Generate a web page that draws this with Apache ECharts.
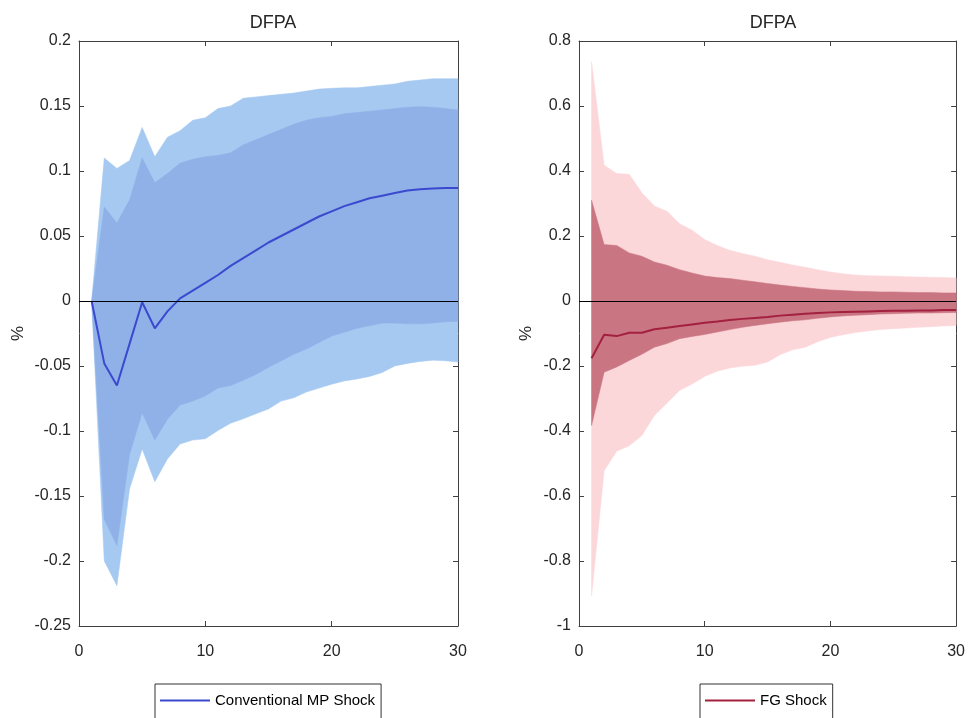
<!DOCTYPE html>
<html>
<head>
<meta charset="utf-8">
<script src="https://cdn.jsdelivr.net/npm/echarts@6/dist/echarts.min.js"></script>
<style>
html,body{margin:0;padding:0;background:#fff;}
#chart{width:968px;height:718px;}
</style>
</head>
<body>
<div id="chart"></div>
<script>
// Horizons
const horizons = [1,2,3,4,5,6,7,8,9,10,11,12,13,14,15,16,17,18,19,20,21,22,23,24,25,26,27,28,29,30];

// Left panel: Conventional MP Shock (DFPA, %)
const mpMedian = [0,-0.048,-0.065,-0.033,-0.001,-0.021,-0.008,0.002,0.008,0.014,0.020,0.027,0.033,0.039,0.045,0.050,0.055,0.060,0.065,0.069,0.073,0.076,0.079,0.081,0.083,0.085,0.086,0.0865,0.087,0.087];
const mpHi90 = [0,0.110,0.102,0.108,0.1335,0.111,0.126,0.131,0.139,0.141,0.148,0.150,0.156,0.157,0.158,0.159,0.160,0.1615,0.163,0.1636,0.164,0.164,0.165,0.166,0.167,0.169,0.170,0.171,0.171,0.171];
const mpHi68 = [0,0.0724,0.060,0.0776,0.110,0.091,0.098,0.106,0.109,0.111,0.112,0.114,0.120,0.124,0.128,0.132,0.136,0.139,0.141,0.142,0.144,0.145,0.146,0.147,0.148,0.149,0.1495,0.149,0.148,0.147];
const mpLo68 = [0,-0.168,-0.188,-0.118,-0.086,-0.107,-0.091,-0.080,-0.077,-0.073,-0.067,-0.065,-0.061,-0.0565,-0.051,-0.046,-0.041,-0.037,-0.032,-0.027,-0.024,-0.021,-0.019,-0.017,-0.017,-0.0175,-0.0175,-0.017,-0.016,-0.0157];
const mpLo90 = [0,-0.200,-0.219,-0.1446,-0.1138,-0.139,-0.1215,-0.110,-0.107,-0.106,-0.0996,-0.094,-0.0906,-0.0868,-0.083,-0.077,-0.0745,-0.070,-0.067,-0.064,-0.0615,-0.060,-0.058,-0.055,-0.050,-0.048,-0.0465,-0.0455,-0.046,-0.047];

// Right panel: FG Shock (DFPA, %)
const fgMedian = [-0.176,-0.104,-0.108,-0.0976,-0.0976,-0.087,-0.082,-0.077,-0.072,-0.067,-0.063,-0.0585,-0.055,-0.052,-0.049,-0.045,-0.042,-0.039,-0.037,-0.035,-0.034,-0.033,-0.032,-0.031,-0.030,-0.030,-0.029,-0.029,-0.028,-0.028];
const fgHi90 = [0.736,0.418,0.392,0.390,0.333,0.292,0.276,0.238,0.218,0.189,0.171,0.156,0.146,0.138,0.127,0.119,0.111,0.104,0.096,0.089,0.084,0.080,0.078,0.077,0.076,0.075,0.074,0.073,0.072,0.071];
const fgHi68 = [0.310,0.1735,0.171,0.148,0.1376,0.120,0.110,0.0965,0.086,0.077,0.072,0.069,0.064,0.059,0.054,0.049,0.045,0.041,0.037,0.034,0.032,0.030,0.029,0.028,0.028,0.027,0.026,0.026,0.025,0.025];
const fgLo68 = [-0.383,-0.219,-0.203,-0.183,-0.164,-0.142,-0.131,-0.116,-0.109,-0.103,-0.0955,-0.088,-0.081,-0.075,-0.070,-0.065,-0.061,-0.058,-0.053,-0.049,-0.046,-0.044,-0.042,-0.040,-0.039,-0.038,-0.037,-0.037,-0.036,-0.035];
const fgLo90 = [-0.907,-0.522,-0.462,-0.445,-0.414,-0.352,-0.314,-0.275,-0.255,-0.232,-0.216,-0.206,-0.201,-0.198,-0.188,-0.165,-0.150,-0.142,-0.125,-0.112,-0.104,-0.097,-0.092,-0.088,-0.085,-0.083,-0.081,-0.079,-0.077,-0.075];

const panelTitles = ['DFPA','DFPA'];
const seriesNames = ['Conventional MP Shock','FG Shock'];

const FONT = '"Liberation Sans", Arial, sans-serif';
const TXT = '#262626';
const AX = '#404040';

const chart = echarts.init(document.getElementById('chart'));

function pairs(arr){ return horizons.map((h,i)=>[h, arr[i]]); }

// Band drawn as one polygon through the axis scales (api.coord)
function bandSeries(gi, lo, hi, color, z){
  return {
    type:'custom', xAxisIndex: gi*2, yAxisIndex: gi*2, silent:true, z: z,
    data: horizons.map((h,i)=>[h, lo[i], hi[i]]),
    encode:{x:0, y:[1,2]},
    renderItem: function(params, api){
      if (params.dataIndex !== 0) return null;
      const pts = [];
      for (let i=0;i<horizons.length;i++) pts.push(api.coord([horizons[i], hi[i]]));
      for (let i=horizons.length-1;i>=0;i--) pts.push(api.coord([horizons[i], lo[i]]));
      return {type:'polygon', shape:{points: pts}, style:{fill: color, stroke: color, lineWidth:0.5}};
    }
  };
}

function axesFor(gi, ymin, ymax, yint, nameGap){
  const common = {axisLine:{show:true, onZero:false, lineStyle:{color:AX, width:1}}, axisTick:{show:true, inside:true, length:5, lineStyle:{color:AX}}, splitLine:{show:false}};
  const xs = [
    Object.assign({type:'value', gridIndex:gi, position:'bottom', min:0, max:30, interval:10,
      axisLabel:{color:TXT, fontSize:16, fontFamily:FONT, margin:18}}, common),
    Object.assign({type:'value', gridIndex:gi, position:'top', min:0, max:30, interval:10,
      axisLabel:{show:false}}, common)
  ];
  const ys = [
    Object.assign({type:'value', gridIndex:gi, position:'left', min:ymin, max:ymax, interval:yint,
      name:'%', nameLocation:'middle', nameGap:nameGap, nameRotate:90,
      nameTextStyle:{color:TXT, fontSize:17, fontFamily:FONT},
      axisLabel:{color:TXT, fontSize:16, fontFamily:FONT, margin:8}}, common),
    Object.assign({type:'value', gridIndex:gi, position:'right', min:ymin, max:ymax, interval:yint,
      axisLabel:{show:false}}, common)
  ];
  return {xs, ys};
}

const a0 = axesFor(0, -0.25, 0.2, 0.05, 52);
const a1 = axesFor(1, -1, 0.8, 0.2, 44);

const zeroLine = {silent:true, symbol:['none','none'], label:{show:false}, lineStyle:{color:'#000', width:1, type:'solid'}, data:[{yAxis:0}]};

function legendFor(name, left){
  return {data:[{name:name, icon:'rect'}], left:left, top:684, orient:'horizontal', itemWidth:50, itemHeight:2, itemGap:5,
    borderColor:'#333', borderWidth:1, padding:[9,6,30,5], backgroundColor:'#fff',
    textStyle:{color:'#000', fontSize:15, fontFamily:FONT, padding:[0,0,0,0]}};
}

const option = {
  animation:false,
  backgroundColor:'#fff',
  title:[
    {text: panelTitles[0], left: 268, top: 9, textAlign:'center', textStyle:{color:TXT, fontSize:18, fontWeight:'normal', fontFamily:FONT}},
    {text: panelTitles[1], left: 768, top: 9, textAlign:'center', textStyle:{color:TXT, fontSize:18, fontWeight:'normal', fontFamily:FONT}}
  ],
  grid:[
    {left:79, top:41, width:379, height:585, containLabel:false},
    {left:579, top:41, width:379, height:585, containLabel:false}
  ],
  xAxis: [a0.xs[0], a0.xs[1], a1.xs[0], a1.xs[1]],
  yAxis: [a0.ys[0], a0.ys[1], a1.ys[0], a1.ys[1]],
  legend:[ legendFor(seriesNames[0], 155), legendFor(seriesNames[1], 700) ],
  series: [
    bandSeries(0, mpLo90, mpHi90, '#a5c9f1', 1),
    bandSeries(0, mpLo68, mpHi68, '#8fb1e8', 2),
    {name: seriesNames[0], type:'line', xAxisIndex:0, yAxisIndex:0, data: pairs(mpMedian), showSymbol:false, symbol:'none',
      lineStyle:{color:'#3b49cf', width:2}, itemStyle:{color:'#3b49cf'}, z:3, markLine: zeroLine},
    bandSeries(1, fgLo90, fgHi90, '#fcd7da', 1),
    bandSeries(1, fgLo68, fgHi68, '#c97582', 2),
    {name: seriesNames[1], type:'line', xAxisIndex:2, yAxisIndex:2, data: pairs(fgMedian), showSymbol:false, symbol:'none',
      lineStyle:{color:'#a3203f', width:2}, itemStyle:{color:'#a3203f'}, z:3, markLine: zeroLine}
  ]
};
chart.setOption(option);
</script>
</body>
</html>
